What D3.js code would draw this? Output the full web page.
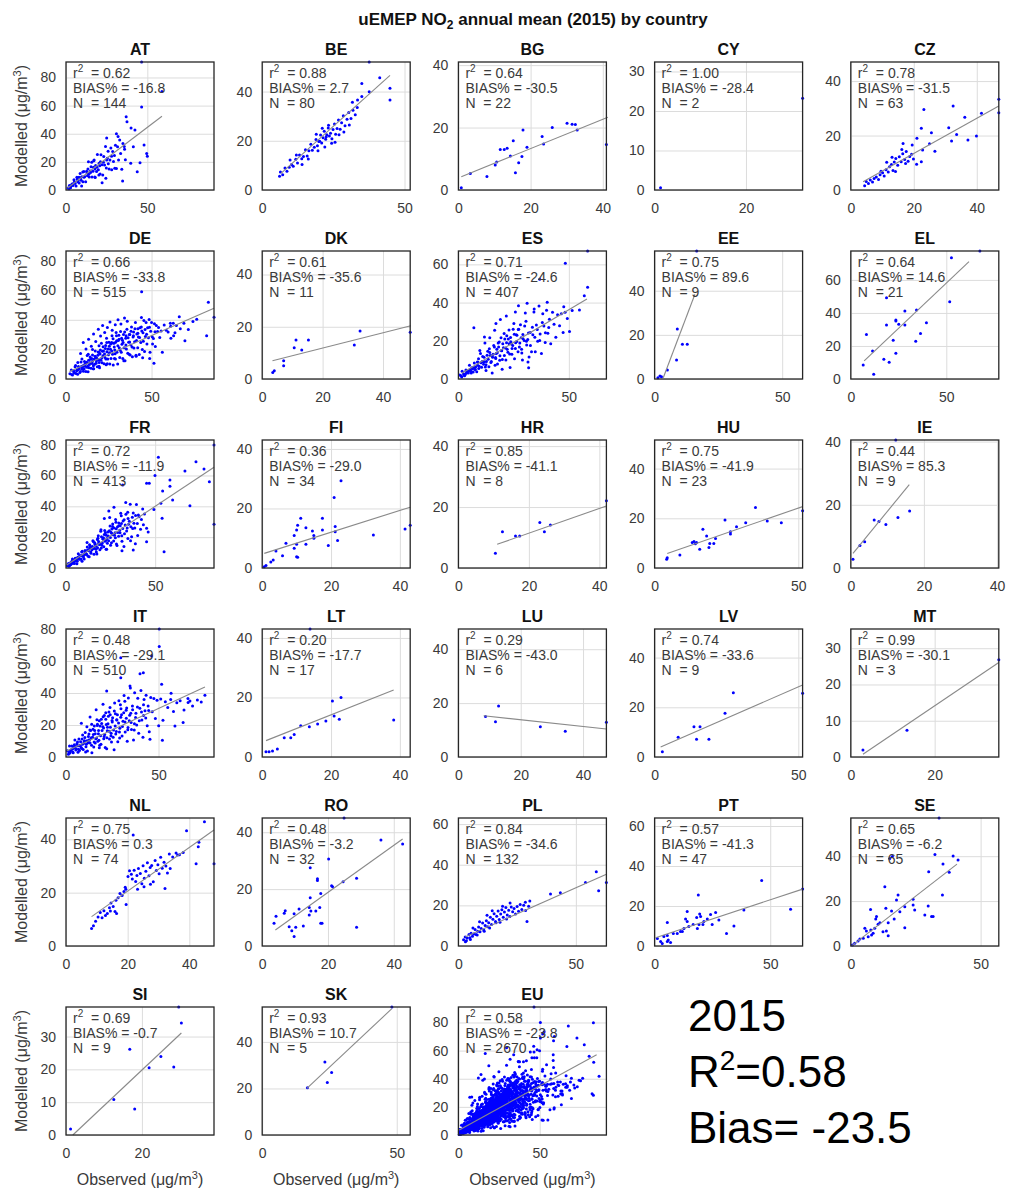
<!DOCTYPE html>
<html>
<head>
<meta charset="utf-8">
<script src="https://cdn.jsdelivr.net/npm/d3@7"></script>
<style>
  body { margin: 0; background: #fff; }
  svg { display: block; }
  text { font-family: "Liberation Sans", Arial, Helvetica, sans-serif; }
</style>
</head>
<body>
<svg id="chart" width="1010" height="1192"></svg>
<script>
// ---- data ----
const countries = ["AT","BE","BG","CY","CZ","DE","DK","ES","EE","EL","FR","FI","HR","HU","IE",
                   "IT","LT","LU","LV","MT","NL","RO","PL","PT","SE","SI","SK","EU"];
const limits = [91, 52, 41, 32.4, 47, 86.5, 49, 67, 58, 77.5, 83, 43, 42, 51.5, 40.5,
                80, 43, 47.5, 51.5, 35.3, 48, 45, 63, 64, 57, 39, 55, 91];
const r2   = ["0.62","0.88","0.64","1.00","0.78","0.66","0.61","0.71","0.75","0.64","0.72","0.36","0.85","0.75","0.44",
              "0.48","0.20","0.29","0.74","0.99","0.75","0.48","0.84","0.57","0.65","0.69","0.93","0.58"];
const bias = ["-16.8","2.7","-30.5","-28.4","-31.5","-33.8","-35.6","-24.6","89.6","14.6","-11.9","-29.0","-41.1","-41.9","85.3",
              "-29.1","-17.7","-43.0","-33.6","-30.1","0.3","-3.2","-34.6","-41.3","-6.2","-0.7","10.7","-23.8"];
const nObs = [144, 80, 22, 2, 63, 515, 11, 407, 9, 21, 413, 34, 8, 23, 9,
              510, 17, 6, 9, 3, 74, 32, 132, 47, 65, 9, 5, 2670];
const t50 = [0, 50], t2040 = [0, 20, 40], t20 = [0, 20];
const xTicks = [t50, t50, t2040, t20, t2040, t50, t2040, t50, t50, t50, t50, t2040, t2040, t50, t2040,
                t50, t2040, t2040, t50, t20, t2040, t2040, t50, t50, t50, t20, t50, t50];
const y80 = [0, 20, 40, 60, 80], y60 = [0, 20, 40, 60], y40 = [0, 20, 40], y30 = [0, 10, 20, 30];
const yTicks = [y80, y40, y40, y30, y40, y80, y40, y60, y40, y60, y80, y40, y40, y40, y40,
                y80, y40, y40, y40, y30, y40, y40, y60, y60, y40, y30, y40, y80];
// fitted line: [x from, x to, intercept, slope]
const fits = [[1,59,0.5,0.88],[6.6,44.9,-0.1,1.04],[0.8,41.4,3.9,0.468],null,[3.9,47,0.54,0.644],
  [2,86.5,4.0,0.506],[3.4,49.2,6.0,0.293],[1.5,58.2,2.0,0.686],[3.4,15.8,-9.8,3.05],[7,61.9,3.35,1.093],
  [0.4,83,1.6,0.768],[0.6,43,4.7,0.366],[11,42,3.3,0.406],[4.4,51.5,4.1,0.4],[0.6,16,3.8,1.41],
  [0.3,75.1,3.6,0.535],[1.1,38.2,5.0,0.458],[8.1,47.5,16.3,-0.124],[2.1,51.5,3.0,0.504],[2.9,35.3,-1.5,0.781],
  [8.3,48,4.2,0.819],[4,42.7,2.3,0.827],[3,63,3.0,0.513],[0.4,64,4.0,0.382],[0.3,40.9,-0.2,0.897],
  [1.8,30.4,-1.96,1.087],[16.6,48.2,2.0,1.085],[0.5,85,3.3,0.632]];

// [observed, modelled] per station
const ptsAT = [[46.5,91],[59,70],[46.5,59],[37,52],[37.5,48.6],[40,44],[42.4,42.7],[31,40],[32,38],[25,37],[48,32],[41.4,30.8],[36,29],[49.6,26],[50,24],[39.8,19],[45.5,19.4],[43.8,13],[34.8,6.4],[30,15.4],
  [1.2,1.4],[2.1,3.2],[2.8,1.6],[3.5,3.9],[4.3,3.2],[4.9,7.3],[5.6,4.7],[6.2,2.9],[6.9,7.9],[7.4,6.8],[8.1,5.0],[8.7,11.8],[9.3,6.9],[9.8,9.4],[10.4,5.8],[11.0,13.1],[11.5,9.6],[12.1,5.8],[12.7,13.3],[13.2,10.1],[13.8,20.0],[14.3,9.2],[14.9,13.5],[15.4,16.6],[16.0,9.2],[16.6,13.3],[17.1,20.8],[17.7,9.2],[18.2,17.5],[18.8,13.1],[19.3,25.2],[19.9,14.4],[20.4,19.0],[21.0,11.4],[21.5,25.1],[22.1,18.0],[22.6,10.6],[23.2,23.8],[23.7,17.7],[24.3,31.0],[24.8,15.6],[25.4,22.6],[25.9,27.5],[26.5,15.0],[27.0,21.3],[27.6,29.9],[28.1,14.4],[28.7,27.3],[29.2,20.2],[29.8,24.6],[30.4,31.9],[31.0,15.3],[31.7,30.7],[32.3,21.4],[33.0,35.5],[33.6,25.9],[34.3,14.7],[35.0,33.0],[35.8,31.0],[36.5,21.5],
  [3.0,2.6],[5.2,5.9],[7.2,5.8],[9.0,8.7],[11.1,9.1],[12.9,12.2],[15.1,12.4],[16.9,16.1],[19.0,16.2],[21.2,20.1],[23.0,19.8],[25.0,21.3],[18.0,8.9],[20.2,10.6],[22.2,5.2],[24.5,8.4],[10.3,12.8],[13.5,14.9],[15.8,19.8],[17.3,21.4],[9.6,2.9],[6.7,9.0],[1.8,0.9],[4.0,4.5],[8.0,9.1],[14.0,11.2],[17.8,15.0],[20.7,17.2],[26.0,18.6],[28.0,24.0]];
const ptsBE = [[37.6,52],[41.3,45.6],[35,43.3],[44.9,41.3],[44.9,36.6],[37.6,39.9],[35,38],[33.5,36.6],[31.7,35.6],[30.6,26.4],
  [6.1,5.6],[6.4,7.3],[7.2,6.2],[8.0,8.9],[8.7,7.6],[9.5,9.2],[10.3,10.4],[10.9,9.6],[11.8,12.5],[12.4,11.0],[13.1,14.2],[13.9,12.7],[14.5,13.6],[15.2,16.4],[15.8,13.8],[16.4,15.9],[17.1,18.6],[17.6,16.1],[18.3,17.4],[18.9,20.5],[19.4,18.0],[19.9,19.7],[20.5,22.3],[20.9,19.1],[21.4,21.2],[21.8,23.9],[22.3,20.6],[22.7,22.4],[23.2,25.2],[23.6,21.9],[24.0,23.1],[24.5,20.8],[24.9,24.6],[25.4,26.8],[25.8,22.6],[26.3,25.0],[26.8,28.4],[27.4,24.7],[27.9,27.3],[28.5,30.2],[29.1,26.1],[29.8,28.7],[30.4,31.5],[31.2,29.0],[31.9,32.4],[32.7,30.6],[33.4,33.5],
  [14.0,10.4],[16.2,12.6],[19.6,15.9],[22.0,17.5],[25.6,19.4],[21.1,25.1],[23.3,26.3],[19.0,22.6],[12.0,14.2],[9.8,12.2],[27.0,22.4],[28.7,23.6],[24.4,19.0],[20.2,19.8],[22.5,21.6]];
const ptsBG = [[41,14.6],[30.1,21.4],[31.5,21.1],[32.4,21],[32.9,19.2],[26,20],[23.2,17.1],[23.6,14.7],[17.9,19.2],[19,13.7],[15.2,15.8],[13.5,13.4],[12.7,13],[14.4,10.9],[17.6,10.7],[16.7,8.7],[15.8,5.5],[0.8,0.7],[3.3,5.3],[7.9,4.3],[10.2,8],[10.6,9],[11.6,13]];
const ptsCY = [[1.3,0.6],[32.4,23.2]];
const ptsCZ = [[47,33.3],[47,28.4],[41.5,28.2],[32.5,30.8],[36.2,26.7],[23.2,29.6],[31.1,22.9],[33.6,20.4],[32,18],[39.9,19.8],[37.2,18.4],[22.4,22.7],[25.6,21],[21,19],[19.5,16.5],[16.6,17.1],[22.8,14.7],[25,17],[26.7,14.2],[22.4,10.4],[20.9,9.5],
  [4.4,1.6],[4.9,3.1],[5.6,2.4],[6.2,3.7],[6.9,2.9],[7.4,4.2],[8.1,4.8],[8.8,3.9],[9.3,5.6],[10.1,6.3],[10.6,5.1],[11.2,7.4],[11.9,6.6],[12.3,8.5],[12.9,9.4],[13.4,7.2],[13.8,10.3],[14.3,11.6],[14.9,9.1],[15.4,12.2],[16.0,10.4],[16.5,13.3],[17.1,11.2],[17.6,14.1],[18.2,10.6],[18.7,12.3],[19.3,13.1],[19.9,11.4],[13.1,12.0],[11.4,10.2],[16.2,14.9],[14.2,6.8],[9.6,6.9],[17.4,9.7]];
const ptsDE = [[86.5,41.7],[83.2,51.8],[82.2,29.3],[76.4,40.3],[44.2,59],[69.5,25.9],[66.2,42.1],[63.7,31.3],[62.7,37.6],[61,37.6],[61.3,27.5],[51.4,10.6],
  [2.3,3.6],[3.1,6.1],[3.8,2.7],[4.4,5.6],[4.9,4.1],[5.6,9.1],[6.2,5.5],[6.8,3.2],[7.3,8.5],[7.7,7.1],[8.4,5.1],[8.8,11.5],[9.3,6.6],[9.9,8.9],[10.2,5.3],[10.8,11.9],[11.3,8.6],[11.6,5.0],[12.1,11.4],[12.7,8.6],[13.0,16.7],[13.4,7.6],[13.9,11.0],[14.3,13.4],[14.6,7.3],[15.2,10.5],[15.5,16.2],[15.9,7.0],[16.4,13.4],[16.7,9.9],
  [17.1,18.9],[17.6,10.7],[18.0,14.1],[18.3,8.3],[18.8,18.3],[19.1,12.9],[19.6,7.6],[19.9,16.9],[20.4,12.6],[20.7,24.2],[21.1,10.9],[21.6,15.7],[21.9,19.0],[22.3,10.3],[22.8,14.6],[23.2,22.6],[23.5,9.7],[23.9,18.4],[24.4,13.6],[24.8,16.4],[25.1,24.9],[25.6,10.1],[26.0,20.1],[26.3,13.9],[26.9,29.2],[27.2,16.7],[27.6,9.4],[28.1,24.1],[28.5,19.6],[28.9,13.5],
  [29.3,31.4],[29.8,18.0],[30.2,10.2],[30.6,26.0],[31.1,21.1],[31.4,14.5],[31.9,32.1],[32.3,18.0],[32.7,23.5],[33.2,13.8],[33.6,30.1],[34.0,21.2],[34.5,12.4],[34.9,27.5],[35.3,20.2],[35.8,39.0],[36.1,17.4],[36.6,24.9],[37.0,30.0],[37.5,16.2],[37.9,22.9],[38.3,35.2],[38.8,15.1],[39.2,28.4],[39.7,20.9],[40.1,25.2],[40.6,38.2],[41.0,15.4],[41.4,30.4],[41.9,21.1],
  [42.3,28.4],[42.8,16.6],[43.2,34.6],[43.7,24.6],[44.1,41.5],[44.6,19.9],[45.0,31.3],[45.5,39.6],[45.9,18.6],[46.4,28.8],[46.8,38.1],[47.3,23.6],[47.7,34.6],[48.2,27.8],[48.6,40.2],[49.1,18.1],[49.5,32.2],[50.0,38.2],[50.6,23.7],[51.1,27.3],[51.7,37.4],[52.2,22.0],[52.8,36.1],[53.5,32.1],[54.1,34.8],[54.8,28.1],[55.6,32.5],[56.3,18.0],[57.4,36.5],[58.6,33.0],[59.7,31.8],[61.2,35.6],[62.9,29.2],[64.5,36.1],[66.8,34.0],[68.9,37.7],[71.5,33.5],[74.2,38.9],
  [8.5,17.2],[10.1,24.6],[11.7,20.3],[13.2,26.8],[14.8,22.1],[16.1,30.4],[17.4,25.3],[18.9,33.7],[20.2,29.1],[21.4,36.2],[22.6,31.4],[24.2,34.8],[25.7,38.6],[27.0,33.0],[28.8,36.7],[30.4,40.1],[32.1,37.2],[34.2,41.3],[12.4,15.8],[9.3,13.6],[15.5,19.9],[19.3,22.4],[23.7,27.5],[26.6,24.6],[29.5,29.3],[6.9,11.2],[5.3,8.2],
  [6.5,6.0],[9.0,8.4],[11.0,9.9],[13.2,12.6],[15.0,13.8],[17.3,14.6],[19.4,17.9],[21.3,18.7],[23.0,20.6],[25.3,22.1],[27.4,24.3],[29.0,24.9],[31.0,26.8],[33.0,26.2],[35.1,29.2],[37.3,30.1],[39.5,31.7],[42.0,33.9],[44.3,32.5],[12.9,4.9],[16.2,7.0],[19.3,8.6],[24.1,10.3],[28.3,13.9],[33.8,12.4],[36.9,16.7],[40.9,16.0],[44.8,14.4],[48.9,13.8],
  [3.4,3.0],[4.7,4.6],[5.9,3.8],[7.1,6.3],[8.1,4.4],[9.6,7.8],[10.6,6.9],[11.9,10.7],[12.3,7.9],[13.7,9.8],[14.1,14.9],[15.4,11.9],[16.0,9.0],[17.0,15.4],[17.8,12.1],[18.6,16.0],[19.4,11.2],[20.1,19.6],[20.9,14.2],[21.7,21.8],[22.5,16.9],[23.3,13.5],[23.8,24.6],[24.6,20.2],[25.4,17.8],[26.1,23.6],[26.7,19.0],[27.5,27.2],[28.2,21.7],[28.7,17.0],[29.6,25.8],[30.3,22.4],[30.9,29.5],[31.6,19.4],[32.5,27.6],[33.4,24.6],[34.3,31.7],[35.0,22.9],[35.6,33.6],[36.3,27.8],[37.2,25.0],[38.0,32.3],[38.6,21.6],[39.4,29.3],[40.3,34.0],[41.2,26.1],[42.0,31.0],[43.0,28.0],[44.0,35.1],[45.2,25.5],[46.2,33.4],[47.1,30.2],[48.8,34.9],[50.4,28.6],[52.0,31.9]];
const ptsDK = [[49,17.9],[32.4,18.4],[30.5,13],[11.2,14.9],[15.3,14.9],[10.6,12],[13.1,11.1],[7.1,7],[7.1,5.1],[4,3.2],[3.5,2.5]];
const ptsES = [[58.5,67],[48.4,60.6],[58.5,48],[57,43.6],[54.8,36.1],[51.5,35.8],[50.3,24.8],[47.7,37.8],[40.2,40.2],[31.1,39.6],[36.8,52.2],[31.8,5.9],
  [0.6,2.1],[1.2,1.7],[1.7,4.1],[2.3,2.7],[2.8,1.7],[3.4,4.7],[3.9,4.1],[4.5,3.1],[5.0,7.2],[5.6,4.3],[6.1,5.9],[6.7,3.7],[7.2,8.4],[7.8,6.3],[8.3,3.8],[8.9,8.8],[9.4,6.7],[10.0,13.4],[10.5,6.2],[11.1,9.2],[11.6,11.4],[12.2,6.3],[12.7,9.1],[13.3,14.5],[13.8,6.4],[14.4,12.3],[14.9,9.2],[15.5,11.4],[16.0,17.5],[16.6,7.2],
  [17.1,13.3],[17.7,7.9],[18.2,16.8],[18.8,12.2],[19.3,21.6],[19.9,10.2],[20.4,16.3],[21.0,20.9],[21.5,9.9],[22.1,15.6],[22.6,21.0],[23.2,13.1],[23.7,19.5],[24.3,15.9],[24.8,26.0],[25.4,10.6],[25.9,19.0],[26.5,22.9],[27.0,14.3],[27.6,16.7],[28.1,28.4],[28.7,13.6],[29.2,23.3],[29.8,20.1],[30.3,34.5],[30.9,17.8],[31.4,20.7],[32.0,11.5],[32.5,24.3],[33.1,14.3],
  [33.7,23.1],[34.2,35.1],[34.8,14.2],[35.3,28.3],[35.9,19.7],[36.5,38.2],[37.0,23.6],[37.6,13.4],[38.2,34.2],[38.7,27.7],[39.3,19.1],[39.9,36.0],[40.5,23.9],[41.2,31.3],[41.8,18.5],[42.6,34.9],[43.3,28.6],[44.1,21.8],[44.9,33.6],[45.8,27.9],[46.6,34.1],[47.4,24.3],[48.3,35.0],[49.3,31.7],
  [4.2,3.6],[6.4,5.4],[8.6,8.9],[10.8,9.1],[13.0,12.4],[15.2,12.1],[17.4,15.6],[19.6,14.8],[21.8,19.0],[24.0,18.3],[26.2,23.1],[28.4,21.6],[9.7,14.9],[12.0,18.8],[14.2,21.6],[16.4,25.5],[7.0,26.8],[11.8,22.0],[17.0,29.0],[19.0,31.2],[21.7,33.0],[25.8,35.1],[23.4,6.0],[19.8,5.1],[15.3,3.1],[29.0,10.0],[27.2,38.3],[34.3,36.6],[31.5,8.9],
  [3.1,2.3],[5.3,5.0],[7.5,5.1],[9.1,10.6],[11.4,7.7],[14.0,15.8],[18.5,19.4],[20.7,23.8],[22.9,25.6],[25.1,29.1],[27.3,26.0],[30.6,30.2],[16.9,10.7],[12.5,4.4],
  [1.5,1.1],[2.6,2.0],[3.6,3.1],[4.8,4.2],[5.8,3.2],[6.9,6.2],[7.6,5.0],[8.7,7.2],[9.2,5.5],[10.3,8.5],[11.0,11.8],[11.8,9.0],[12.5,7.4],[13.5,10.4],[14.2,13.9],[14.7,8.6],[15.7,12.9],[16.3,16.8],[16.8,11.2],[17.6,13.7],[18.0,18.9],[18.7,9.8],[19.5,14.9],[20.1,18.4],[20.8,12.3],[21.3,16.2],[21.9,22.6],[22.4,14.0],[23.0,18.5],[23.6,21.7],[24.2,12.9],[24.6,17.5],[25.3,23.4],[25.8,16.0],[26.4,19.6],[27.1,25.9],[27.8,18.8],[28.6,15.6],[29.3,21.1],[30.0,27.8],[30.8,19.8],[31.7,24.1],[32.6,17.6],[33.5,27.1],[34.6,21.9],[35.7,25.9],[36.8,20.1],[38.0,29.6],[39.4,24.2],[40.9,27.0]];
const ptsEE = [[16.5,58],[8.9,22.7],[10.9,15.7],[12.8,15.7],[8.6,8.6],[5,4.1],[2.1,1.4],[2.7,1.0],[1.3,0.6]];
const ptsEL = [[67.6,77.5],[52.7,73.4],[51.8,46.8],[18.7,49.2],[28.3,41.2],[34.4,41.8],[39.6,34.1],[18.7,32.7],[23.6,35.7],[23.6,35.1],[25.1,33.1],[8.2,27],[28.3,32.7],[22.2,23.4],[34,22.8],[36.5,27.6],[11.4,17],[23.6,15.6],[17.3,11.9],[20.1,10.1],[6.5,8.5],[12,2.9]];
const ptsFR = [[83,79.8],[83,28.3],[80.4,56],[77.4,64.2],[72.9,68.9],[66.7,62.9],[69.5,40.4],[59.8,44.1],[51.8,71.8],[49.9,59.9],[54.2,49.9],[58.3,57.1],[58.3,53],[53.9,32.2],[55,10.6],[45.2,54.9],[46.7,54.9],[31.8,53.8],[53.2,42],[49.3,38],[45.2,25.7],[45.2,17],[37.7,11.7],[31.4,11.2],
  [0.8,1.5],[1.4,2.9],[1.9,1.7],[2.5,3.4],[3.0,2.7],[3.6,5.8],[4.1,3.9],[4.7,2.9],[5.2,6.4],[5.8,5.8],[6.3,4.4],[6.9,9.3],[7.4,5.9],[8.0,8.0],[8.5,5.9],[9.1,10.9],[9.6,8.2],[10.2,5.8],[10.7,11.3],[11.3,8.8],[11.8,16.5],[12.4,7.6],[12.9,11.9],[13.5,14.5],[14.0,9.5],[14.6,11.8],[15.1,17.7],[15.7,8.9],[16.2,15.5],[16.8,12.1],
  [17.3,9.1],[17.9,19.3],[18.4,16.1],[19.0,11.8],[19.5,23.9],[20.1,14.7],[20.6,18.9],[21.2,13.7],[21.7,24.3],[22.3,18.0],[22.8,12.2],[23.4,23.4],[23.9,17.7],[24.5,32.7],[25.0,14.7],[25.6,22.5],[26.1,26.9],[26.7,17.5],[27.2,21.2],[27.8,31.5],[28.3,15.5],[28.9,26.8],[29.5,20.6],[30.1,24.5],[30.7,35.5],[31.4,17.4],[32.0,30.5],[32.8,22.2],[33.5,42.4],[34.3,25.9],[35.1,28.4],[36.0,41.4],[36.8,20.3],[37.7,35.7],[38.6,26.0],[39.5,41.1],[40.6,34.4],[41.8,25.2],[43.0,38.3],
  [3.3,4.4],[5.5,4.9],[7.7,7.9],[9.9,8.6],[12.1,11.7],[14.3,12.6],[16.5,15.3],[18.7,15.2],[20.9,18.6],[23.0,19.1],[25.2,23.2],[27.5,22.8],[29.7,27.4],[11.9,13.6],[15.3,17.2],[18.1,20.9],[21.5,21.7],[24.7,27.3],[28.0,29.6],[31.0,33.8],[33.6,34.9],[13.2,15.1],[19.6,24.8],[26.2,28.6],[30.4,27.4],[34.8,32.1],[6.6,7.0],[8.8,10.3],[10.6,9.5],[2.2,2.0],[4.4,4.9],[15.9,13.0],[17.6,18.4],[22.1,22.9],
  [17.0,10.3],[19.8,13.0],[22.5,12.1],[25.5,16.4],[28.6,14.6],[31.3,20.9],[34.7,19.2],[37.4,25.6],[40.2,21.1],[43.4,28.0],[46.1,23.3],[32.5,13.9],[36.2,17.6],[38.9,15.8],[9.0,4.4],[6.1,2.7],[13.0,7.3],[24.0,37.0],[26.9,39.4],[21.5,32.1],
  [1.6,1.2],[2.7,2.3],[3.9,3.0],[4.9,4.4],[6.0,5.0],[7.0,6.5],[7.9,5.6],[8.9,8.1],[9.8,7.2],[10.9,10.1],[11.6,8.9],[12.6,11.2],[13.3,12.9],[13.9,10.4],[14.8,14.0],[15.5,12.6],[16.1,16.3],[16.9,14.3],[17.7,13.1],[18.3,17.2],[19.2,15.8],[19.9,20.3],[20.4,16.2],[21.0,19.6],[21.9,17.4],[22.6,21.2],[23.2,16.0],[23.7,20.8],[24.3,24.1],[24.9,19.7],[25.7,25.3],[26.4,21.5],[27.0,26.0],[27.7,19.6],[28.2,25.4],[29.0,23.1],[29.6,29.2],[30.3,22.8],[31.1,28.9],[31.8,25.6],[32.6,31.3],[33.2,27.9],[34.0,24.0],[34.6,36.1],[35.5,30.3],[36.4,26.8],[37.2,32.9],[38.1,29.0],[39.0,34.1],[40.0,28.9],[41.0,33.3],[42.3,31.4],[44.0,35.0]];
const ptsFI = [[43,14.4],[41.5,13.1],[32.3,11.1],[22.9,29.3],[20.9,23.7],[17.5,16.7],[21.2,13.9],[21.2,12.2],[21.9,9.2],[17.5,12.8],[14.6,12.4],[15,10.9],[12.7,13.5],[11.2,16.7],[10.3,14.4],[10,12.8],[9.3,10.9],[15,10],[12.7,8],[10,8],[6.9,8.3],[9.3,6.6],[10,3.8],[10.3,3.6],[5.9,4.1],[4,5.7],[3.2,2.7],[2.5,2],[1.1,0.8],[0.6,0.4],[19.2,7.6]];
const ptsHR = [[10.5,4.8],[12.5,11.9],[16.2,10.5],[17.4,10.5],[23.1,14.9],[24.4,11.9],[26.1,14.1],[42,22.1]];
const ptsHU = [[51.5,23],[44.1,18.2],[39.2,18.9],[35.1,24.3],[31.7,18.2],[28.5,16.6],[26.4,14.6],[26.4,13.7],[24.5,19.3],[21.2,11.9],[20.6,9.9],[19.2,9.9],[18.9,8.2],[18.1,12.9],[16.8,15.6],[15.7,7.5],[14.6,10.3],[13.7,10.7],[13.1,10.3],[14.2,9.8],[8.8,5.2],[4.4,4.1],[4.2,3.5]];
const ptsIE = [[12.3,40.5],[16.1,18],[12.9,16],[9.6,13.8],[7.7,14.7],[6.4,15.2],[3.8,8.3],[2.5,7.1],[0.6,2.8]];
const ptsIT = [[50.4,80],[50.4,69],[75.1,38.6],[67,35],[66,34],[63.3,21.5],[58.9,19.4],[56.8,39.8],[52.1,10.4],[51.7,45.4],[46.3,63.1],[41.8,52.7],[40,52],[34.6,44.4],[29.6,49.6],[29.6,62.1],[22,41.3],[45.4,11.1],
  [0.7,3.9],[1.3,1.7],[1.9,6.9],[2.4,3.7],[3.1,6.8],[3.6,3.1],[4.2,5.6],[4.8,10.6],[5.3,4.3],[5.9,8.3],[6.5,2.9],[7.0,11.2],[7.6,7.1],[8.2,6.0],[8.7,11.3],[9.3,4.7],[9.9,9.9],[10.4,15.3],[11.0,7.9],[11.6,3.8],[12.1,12.8],[12.7,10.6],[13.3,16.5],[13.8,7.4],[14.4,12.4],[15.0,6.2],[15.5,16.6],[16.1,11.4],[16.7,23.3],[17.2,9.9],
  [17.8,10.5],[18.4,19.4],[18.9,8.0],[19.5,16.5],[20.1,25.2],[20.6,12.8],[21.2,6.0],[21.8,20.3],[22.3,16.4],[22.9,25.4],[23.5,11.3],[24.0,18.6],[24.6,9.3],[25.2,24.6],[25.7,16.8],[26.3,33.8],[26.9,14.3],[27.4,23.3],[28.0,9.5],[28.6,35.2],[29.1,18.0],[29.7,30.1],[30.3,13.2],[30.8,22.3],[31.4,38.4],[32.0,15.7],[32.5,29.2],[33.1,9.8],[33.7,36.9],[34.2,22.7],
  [34.8,43.1],[35.4,17.2],[35.9,31.9],[36.5,10.7],[37.1,40.1],[37.6,24.7],[38.2,20.0],[38.8,36.7],[39.3,14.8],[39.9,30.4],[40.5,41.5],[41.0,23.1],[41.6,12.3],[42.2,35.9],[42.7,28.9],[43.3,38.6],[43.9,19.6],[44.4,31.9],[45.0,15.8],[45.8,37.2],[46.6,28.3],[47.5,36.5],[48.3,24.1],[49.2,35.4],[50.1,19.5],[51.2,36.3],[52.4,23.0],[53.7,34.6],[55.0,31.0],[56.6,36.0],[58.1,28.5],[59.9,33.9],[61.7,35.2],[63.8,29.4],[65.9,36.5],[68.4,31.8],[71.0,35.6],[73.1,34.3],
  [5.0,6.6],[7.5,7.4],[10.0,10.2],[12.4,10.7],[14.8,14.1],[17.5,14.6],[19.9,18.9],[22.4,18.6],[24.9,22.8],[27.5,23.1],[30.0,26.4],[32.6,24.2],[35.0,27.3],[12.9,16.8],[15.3,19.4],[18.0,22.7],[20.7,25.9],[23.2,28.2],[10.6,3.2],[14.0,2.6],[18.0,5.8],[22.0,5.2],[26.0,4.6],[8.3,21.1],[16.3,29.5],[20.0,33.0],[13.0,25.0],
  [3.5,5.0],[6.2,9.4],[9.0,13.7],[11.3,18.9],[13.9,20.4],[16.9,19.7],[19.1,23.6],[21.5,27.7],[23.8,30.9],[26.7,27.0],[29.4,32.6],[31.8,34.9],[2.1,2.5],[4.5,7.7],[6.8,4.9],[8.9,7.9],[11.9,8.9],[15.8,8.8],[20.4,11.4],[24.3,13.3],[28.9,15.6],[33.5,18.4],[37.0,20.8],[41.9,25.9],
  [1.7,3.0],[2.8,4.6],[3.9,2.6],[4.5,6.3],[5.6,5.0],[6.3,7.1],[7.3,4.1],[7.9,9.6],[8.5,5.3],[9.6,8.6],[10.2,12.2],[10.8,6.4],[11.4,10.1],[12.4,14.4],[13.0,8.7],[13.6,12.0],[14.6,17.4],[15.2,9.4],[15.8,14.6],[16.5,11.9],[17.0,20.4],[17.6,16.6],[18.2,7.4],[18.7,13.3],[19.3,21.0],[20.3,18.1],[20.9,14.1],[21.5,23.6],[22.1,12.0],[22.7,20.8],[23.3,16.1],[23.9,26.4],[24.4,14.9],[25.0,21.9],[25.5,12.4],[26.1,28.7],[26.6,19.4],[27.2,16.0],[27.8,26.4],[28.4,21.2],[29.0,11.8],[29.6,24.8],[30.5,19.0],[31.2,27.6],[31.9,21.9],[32.8,30.6],[33.4,17.1],[34.4,26.1],[35.2,21.5],[36.0,29.5],[36.9,16.8],[37.8,27.3],[38.6,31.3],[39.6,22.6],[40.8,28.1],[41.9,32.7],[43.1,24.3],[44.7,29.0]];
const ptsLT = [[13.9,43],[38.2,12.4],[22.9,20],[20.4,18.8],[20.9,13.8],[22.4,12.7],[18.5,12.1],[16.1,11.1],[13.7,10.2],[11.2,10.5],[9.3,7.6],[8.3,6.5],[6.4,6.5],[4.4,2.7],[3,2],[1.1,1.8],[2,1.8]];
const ptsLU = [[47.5,12.9],[34.3,9.6],[26.3,11.2],[12.9,18.9],[11.9,13.1],[8.7,15]];
const ptsLV = [[51.5,25.6],[27.4,25.9],[24.5,17.6],[15.8,12.2],[13.7,12.2],[14.6,7.1],[18.9,7.1],[8.2,7.9],[2.7,2.1]];
const ptsMT = [[35.3,26.8],[13.4,7.4],[2.9,1.9]];
const ptsNL = [[48,30.8],[44.9,46.6],[39.1,43.2],[43.1,38.9],[42.9,37.2],[42.2,30.8],[38,35.1],[36.2,34.1],[33.5,34.5],[32.1,21.6],[21.8,41.6],[19.5,15.6],[15.9,12.9],[8.3,6.6],
  [8.9,7.6],[9.6,9.3],[10.4,10.9],[11.1,12.6],[11.7,10.6],[12.3,13.2],[12.8,11.4],[13.4,12.2],[14.1,14.3],[14.6,16.1],[15.3,14.8],[16.2,17.2],[16.9,18.1],[17.5,19.7],[18.2,18.9],[18.8,20.4],[19.4,21.3],[20.1,26.1],[20.6,28.2],[21.2,26.9],[21.5,25.1],[22.1,28.4],[22.6,24.2],[23.0,26.4],[23.5,29.1],[24.1,27.2],[24.6,23.3],[25.0,30.1],[25.4,25.4],[25.9,28.0],[26.4,31.2],[26.9,26.3],[27.3,29.4],[27.8,30.2],[28.3,24.1],[28.9,32.1],[29.3,28.3],[29.8,30.5],[30.2,27.1],[30.7,33.3],[31.2,29.2],[31.8,31.4],[32.4,30.0],[32.9,27.4],[33.8,29.1],[34.6,33.4],[35.7,34.9],[36.8,34.2],[14.4,13.1],[16.4,12.2],[19.2,22.0],[23.2,21.3],[25.3,22.2],[27.4,23.2]];
const ptsRO = [[24.9,45],[36.1,37.3],[42.7,35.9],[20.2,30.6],[14.6,27.5],[16.8,23.6],[16.8,23],[21.1,21.2],[21.4,20.8],[24.6,22.6],[28.7,23.8],[17.8,18.5],[14.6,17],[14.3,13.5],[14.8,12.3],[14.3,10.9],[16.3,12.3],[17.5,13.5],[11.2,13],[9.7,11.3],[7,12.4],[6.7,11.5],[4.2,10.5],[8.2,6.8],[9,5.4],[10.2,6.6],[9.7,3.3],[12.5,7],[3.6,8],[17.8,8],[18.2,8],[28.7,6.6]];
const ptsPL = [[63,31.2],[59.7,27.2],[58.7,36.6],[54.1,31.3],[43.4,26.2],[39.2,25.6],[30.4,22.1],[28.5,21.5],[29.2,12],
  [2.2,3.1],[2.9,4.4],[3.4,2.6],[3.8,3.9],[4.5,5.6],[4.9,4.1],[5.4,6.3],[6.0,4.8],[6.5,5.9],[7.1,8.1],[7.5,5.6],[8.2,7.2],[8.6,9.4],[9.2,7.0],[9.7,8.6],[10.3,11.3],[10.8,7.9],[11.4,10.1],[11.9,12.4],[12.5,9.5],[12.9,11.5],[13.6,14.1],[14.1,10.6],[14.7,13.2],[15.2,15.9],[15.8,12.1],[16.3,14.6],[16.9,17.2],[17.4,13.0],[18.0,15.8],[18.5,17.9],[19.1,14.1],[19.6,16.7],[20.2,19.0],[20.8,15.3],[21.4,17.6],[21.9,14.5],[22.5,19.2],[23.1,16.8],[23.7,18.4],[24.3,15.7],[25.0,19.5],[25.6,17.1],[26.3,20.4],[27.0,18.0],[27.8,20.1],[28.6,17.5],[29.9,19.6],
  [6.2,8.8],[9.0,11.9],[12.2,15.1],[3.0,2.1],[11.0,7.3],[16.0,11.4],[20.5,13.3],[18.8,19.6],[14.4,17.3],[22.0,21.2],[5.1,3.2],[8.0,5.4],[13.3,8.9],[17.7,11.7]];
const ptsPT = [[64,28.5],[58.8,18.4],[46.3,32.7],[38.6,18],[34.3,10],[31.1,6.3],[18.9,25.5],[27.8,13],[26.4,16.7],[24.2,15.8],[24.9,10.8],[21.3,12.2],[19.5,16],[18.2,14.2],[14.1,17.2],[13.4,13.5],[16.7,10.8],[19.2,10.8],[20.9,10.8],[18.5,8.8],[12,7.2],[9.8,6.3],[8.1,6.3],[5.5,11.8],[5.5,5.2],[5.9,3],[4,4.7],[2.6,2.2],[1.2,3.8],[3.3,1.3],[5.5,2.2],[6.9,1.8],[11.2,7.2],[14.1,12.2],[19.9,14.7],[22.8,13.5],[14.8,9.8],[12.7,8.8]];
const ptsSE = [[34,57],[32.4,40.8],[39.4,40.1],[41.3,38.3],[35.5,36.5],[30,33.1],[37.9,32.8],[35.3,22.7],[29.8,17.8],[31.1,13.1],[31.7,13.1],[28.5,13.8],[24,20.8],[24,18.3],[24.6,16],[20.8,17.5],[18.9,15.3],[20.8,8.1],[18.2,22.7],[17.6,20.5],[15.7,15.6],[15,39],[16,39.8],[13.1,26.4],[13.5,16.8],[11.2,10.4],[14.4,10.4],[12.4,6.4],[14.4,4.6],[13.7,6.7],[9.9,13.1],[9.6,12],[7.6,16.3],[9.2,7.9],[7.7,7.1],[8,4.9],[5.4,7.9],[6,6.7],[4.8,3.4],[2.8,2.2],[1.5,1.2],[0.6,0.4],[3.5,3.1],[6.7,4.1],[8.6,5.7],[10.5,9.7],[16.7,12]];
const ptsSI = [[29.7,39],[30.4,34.1],[16.8,26.1],[25,23.9],[21.9,20.5],[28.4,20.7],[12.6,10.8],[18.1,7.9],[1.2,1.8]];
const ptsSK = [[48.2,55],[23.3,31.4],[25.8,26.9],[24.2,22.6],[16.8,20.3]];
const countryPoints = [ptsAT, ptsBE, ptsBG, ptsCY, ptsCZ, ptsDE, ptsDK, ptsES, ptsEE, ptsEL, ptsFR, ptsFI, ptsHR, ptsHU, ptsIE,
                       ptsIT, ptsLT, ptsLU, ptsLV, ptsMT, ptsNL, ptsRO, ptsPL, ptsPT, ptsSE, ptsSI, ptsSK];
// the EU panel pools every station of the 27 countries (their N add up to 2670)
const ptsEU = [].concat(...countryPoints);
const points = countryPoints.concat([ptsEU]);

const summaryYear = "2015";
const summaryR2 = "0.58";
const summaryBias = "-23.5";

// ---- layout ----
const pw = 148, ph = 128;
const colX = c => 66 + c * 196.2;
const rowY = r => 62 + r * 189;
const ink = "#262626", grey = "#3a3a3a";

const svg = d3.select("#chart");

// figure title
const title = svg.append("text")
  .attr("x", 533).attr("y", 25)
  .attr("text-anchor", "middle")
  .attr("font-size", 17).attr("font-weight", "bold").attr("fill", "#111");
title.append("tspan").text("uEMEP NO");
title.append("tspan").attr("font-size", 12).attr("dy", 4).text("2");
title.append("tspan").attr("dy", -4).text(" annual mean (2015) by country");

countries.forEach(function(name, i) {
  const col = i % 5, row = Math.floor(i / 5);
  const M = limits[i];
  const x = d3.scaleLinear().domain([0, M]).range([0, pw]);
  const y = d3.scaleLinear().domain([0, M]).range([ph, 0]);

  const g = svg.append("g")
    .attr("transform", "translate(" + colX(col) + "," + rowY(row) + ")");

  // grid
  g.append("g")
    .attr("transform", "translate(0," + ph + ")")
    .call(d3.axisBottom(x).tickValues(xTicks[i]).tickSize(-ph).tickFormat(""))
    .call(a => a.select(".domain").remove())
    .selectAll("line").attr("stroke", "#dcdcdc");
  g.append("g")
    .call(d3.axisLeft(y).tickValues(yTicks[i]).tickSize(-pw).tickFormat(""))
    .call(a => a.select(".domain").remove())
    .selectAll("line").attr("stroke", "#dcdcdc");

  // tick labels
  const xa = g.append("g")
    .attr("transform", "translate(0," + ph + ")")
    .call(d3.axisBottom(x).tickValues(xTicks[i]).tickSize(0).tickPadding(13));
  const ya = g.append("g")
    .call(d3.axisLeft(y).tickValues(yTicks[i]).tickSize(0).tickPadding(10));
  [xa, ya].forEach(a => {
    a.select(".domain").remove();
    a.selectAll("text").attr("font-size", 14).attr("fill", grey)
      .attr("font-family", '"Liberation Sans", Arial, sans-serif');
  });

  // scatter
  g.append("g").selectAll("circle")
    .data(points[i])
    .join("circle")
      .attr("cx", d => x(d[0]))
      .attr("cy", d => y(d[1]))
      .attr("r", 1.5)
      .attr("fill", "#0000ff");

  // fitted line
  const f = fits[i];
  if (f) {
    g.append("line")
      .attr("x1", x(f[0])).attr("y1", y(f[2] + f[3] * f[0]))
      .attr("x2", x(f[1])).attr("y2", y(f[2] + f[3] * f[1]))
      .attr("stroke", "#8a8a8a").attr("stroke-width", 1.1);
  }

  // stats text
  const st = g.append("g").attr("fill", grey).attr("font-size", 14);
  const t1 = st.append("text").attr("x", 7).attr("y", 16);
  t1.append("tspan").text("r");
  t1.append("tspan").attr("font-size", 10).attr("dy", -6).text("2");
  t1.append("tspan").attr("dy", 6).text("\u00a0\u00a0= " + r2[i]);
  st.append("text").attr("x", 7).attr("y", 31).text("BIAS% = " + bias[i]);
  st.append("text").attr("x", 7).attr("y", 46).text("N\u00a0\u00a0= " + nObs[i]);

  // box
  g.append("rect").attr("width", pw).attr("height", ph)
    .attr("fill", "none").attr("stroke", ink).attr("stroke-width", 1.3);

  // panel title
  g.append("text").attr("x", pw / 2).attr("y", -7)
    .attr("text-anchor", "middle").attr("font-size", 16).attr("font-weight", "bold")
    .attr("fill", "#111").text(name);

  // axis labels
  if (col === 0) {
    const yl = g.append("text")
      .attr("transform", "translate(-39," + (ph / 2) + ") rotate(-90)")
      .attr("text-anchor", "middle").attr("font-size", 16).attr("fill", grey);
    yl.append("tspan").text("Modelled (\u03bcg/m");
    yl.append("tspan").attr("font-size", 11).attr("dy", -6).text("3");
    yl.append("tspan").attr("dy", 6).text(")");
  }
  if (row === 5) {
    const xl = g.append("text")
      .attr("x", pw / 2).attr("y", ph + 50)
      .attr("text-anchor", "middle").attr("font-size", 16).attr("fill", grey);
    xl.append("tspan").text("Observed (\u03bcg/m");
    xl.append("tspan").attr("font-size", 11).attr("dy", -6).text("3");
    xl.append("tspan").attr("dy", 6).text(")");
  }
});

// summary note
const note = svg.append("g").attr("font-size", 44).attr("fill", "#000");
note.append("text").attr("x", 688).attr("y", 1031).text(summaryYear);
const rn = note.append("text").attr("x", 688).attr("y", 1087);
rn.append("tspan").text("R");
rn.append("tspan").attr("font-size", 28).attr("dy", -17).text("2");
rn.append("tspan").attr("dy", 17).text("=" + summaryR2);
note.append("text").attr("x", 688).attr("y", 1143).text("Bias= " + summaryBias);
</script>
</body>
</html>
